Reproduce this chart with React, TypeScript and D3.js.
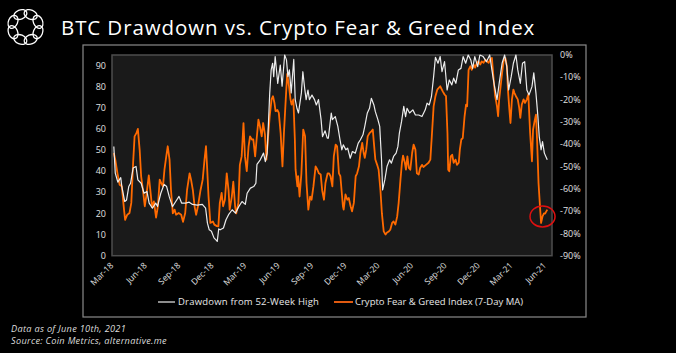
import React, { useEffect } from "react";
import * as d3 from "d3";

const title = "BTC Drawdown vs. Crypto Fear & Greed Index";
const footnotes = ["Data as of June 10th, 2021", "Source: Coin Metrics, alternative.me"];
const legendLabels = ["Drawdown from 52-Week High", "Crypto Fear & Greed Index (7-Day MA)"];

const leftTicks = [0, 10, 20, 30, 40, 50, 60, 70, 80, 90];
const rightTicks = [0, -10, -20, -30, -40, -50, -60, -70, -80, -90];
const xTickDates = [
  "2018-03-01", "2018-06-01", "2018-09-01", "2018-12-01",
  "2019-03-01", "2019-06-01", "2019-09-01", "2019-12-01",
  "2020-03-01", "2020-06-01", "2020-09-01", "2020-12-01",
  "2021-03-01", "2021-06-01",
];
const xDomain = ["2018-03-01", "2021-06-21"];

// Drawdown from 52-week high (%)
const drawdown: [string, number][] = [
  ["2018-03-06", -41], ["2018-03-10", -53], ["2018-03-17", -57], ["2018-03-25", -55], ["2018-03-28", -59],
  ["2018-04-05", -65.7], ["2018-04-10", -65], ["2018-04-16", -59], ["2018-04-21", -57.5], ["2018-04-28", -50.7],
  ["2018-05-06", -50], ["2018-05-11", -56], ["2018-05-20", -57.5], ["2018-05-28", -62], ["2018-06-05", -61.2],
  ["2018-06-11", -66.4], ["2018-06-20", -68.7], ["2018-06-29", -66.4], ["2018-07-04", -67.9], ["2018-07-13", -62],
  ["2018-07-22", -58], ["2018-07-29", -59], ["2018-08-05", -63.4], ["2018-08-14", -68], ["2018-08-23", -65.7],
  ["2018-09-01", -63.4], ["2018-09-08", -66.4], ["2018-09-19", -66.4], ["2018-09-29", -66], ["2018-10-08", -67],
  ["2018-10-21", -67.3], ["2018-11-04", -67], ["2018-11-13", -68.7], ["2018-11-18", -75.4], ["2018-11-23", -78.4],
  ["2018-11-29", -79], ["2018-12-06", -82], ["2018-12-12", -83], ["2018-12-15", -83.6], ["2018-12-19", -78],
  ["2018-12-23", -78.4], ["2019-01-01", -77.6], ["2019-01-08", -73.9], ["2019-01-15", -71.6], ["2019-01-25", -69.4],
  ["2019-02-03", -70.9], ["2019-02-12", -68], ["2019-02-21", -65.7], ["2019-03-02", -67], ["2019-03-07", -62],
  ["2019-03-16", -59.7], ["2019-03-25", -59], ["2019-03-31", -57.5], ["2019-04-03", -49], ["2019-04-12", -47],
  ["2019-04-21", -44], ["2019-04-26", -47.8], ["2019-05-01", -44], ["2019-05-08", -17.2], ["2019-05-12", -6.7],
  ["2019-05-16", -3.7], ["2019-05-19", -9.7], ["2019-05-23", -0.7], ["2019-05-30", -12.7], ["2019-06-06", -4.5],
  ["2019-06-11", -14], ["2019-06-18", 0], ["2019-06-23", -2.2], ["2019-06-27", -9.7], ["2019-07-01", -6.7],
  ["2019-07-06", -17], ["2019-07-13", -2], ["2019-07-17", -20], ["2019-07-22", -24], ["2019-07-26", -26],
  ["2019-08-03", -17], ["2019-08-07", -7.5], ["2019-08-12", -15], ["2019-08-16", -20], ["2019-08-21", -15.7],
  ["2019-08-25", -20], ["2019-09-01", -18], ["2019-09-08", -20], ["2019-09-13", -22.4], ["2019-09-19", -20],
  ["2019-09-26", -29], ["2019-09-30", -36.6], ["2019-10-07", -34], ["2019-10-13", -37.3], ["2019-10-16", -37.3],
  ["2019-10-24", -26], ["2019-10-27", -29], ["2019-11-04", -27.6], ["2019-11-11", -32], ["2019-11-17", -38],
  ["2019-11-22", -42.5], ["2019-11-26", -40.3], ["2019-12-03", -42.5], ["2019-12-08", -41.8], ["2019-12-15", -46.3],
  ["2019-12-21", -43.3], ["2019-12-29", -44], ["2020-01-06", -39.5], ["2020-01-12", -38], ["2020-01-19", -35.8],
  ["2020-01-24", -32], ["2020-01-31", -26], ["2020-02-06", -23.9], ["2020-02-11", -19.4], ["2020-02-18", -22.4],
  ["2020-02-22", -25.4], ["2020-02-29", -29], ["2020-03-05", -32], ["2020-03-10", -47], ["2020-03-13", -60.5],
  ["2020-03-19", -56], ["2020-03-25", -50], ["2020-04-01", -47], ["2020-04-06", -48.5], ["2020-04-12", -45.5],
  ["2020-04-19", -44], ["2020-04-24", -41], ["2020-04-28", -35], ["2020-05-04", -29.8], ["2020-05-10", -23],
  ["2020-05-15", -27.6], ["2020-05-19", -23.9], ["2020-05-26", -26], ["2020-06-04", -24.6], ["2020-06-11", -26.9],
  ["2020-06-20", -26.9], ["2020-06-29", -27.6], ["2020-07-08", -24.6], ["2020-07-13", -21.6], ["2020-07-19", -22.4],
  ["2020-07-25", -18.7], ["2020-07-31", -9.7], ["2020-08-05", -1], ["2020-08-12", -3.7], ["2020-08-18", -0.7],
  ["2020-08-23", -7.5], ["2020-08-30", -3], ["2020-09-06", -15.7], ["2020-09-12", -11.2], ["2020-09-19", -13.4],
  ["2020-09-24", -10.4], ["2020-09-30", -12.7], ["2020-10-07", -6.7], ["2020-10-14", -6], ["2020-10-20", -0.7],
  ["2020-10-27", -3.7], ["2020-11-03", 0], ["2020-11-10", -2.2], ["2020-11-15", -6], ["2020-11-21", -0.7],
  ["2020-11-29", -5.2], ["2020-12-05", 0], ["2020-12-14", -0.7], ["2020-12-23", -3], ["2021-01-01", 0],
  ["2021-01-07", -6.7], ["2021-01-14", -14], ["2021-01-21", -20], ["2021-01-27", -12.7], ["2021-02-04", -3.7],
  ["2021-02-11", 0], ["2021-02-17", -5.2], ["2021-02-22", -15.7], ["2021-03-01", -9.7], ["2021-03-07", -3.7],
  ["2021-03-14", 0], ["2021-03-19", -6.7], ["2021-03-26", -12.7], ["2021-04-01", -3.7], ["2021-04-07", -3],
  ["2021-04-13", -15.7], ["2021-04-19", -17.9], ["2021-04-27", -14.2], ["2021-05-02", -8], ["2021-05-08", -17.2],
  ["2021-05-13", -27], ["2021-05-17", -36.6], ["2021-05-22", -42.5], ["2021-05-26", -38.8], ["2021-05-31", -44],
  ["2021-06-08", -47],
];

// Crypto Fear & Greed Index, 7-day moving average
const fearGreed: [string, number][] = [
  ["2018-03-06", 48.6], ["2018-03-10", 45.5], ["2018-03-16", 39], ["2018-03-22", 33.6], ["2018-03-28", 32.8],
  ["2018-04-03", 21.8], ["2018-04-06", 17], ["2018-04-12", 19.4], ["2018-04-18", 20.2], ["2018-04-23", 25],
  ["2018-04-28", 44], ["2018-05-02", 56.5], ["2018-05-07", 58], ["2018-05-11", 60], ["2018-05-16", 50],
  ["2018-05-20", 37.6], ["2018-05-25", 31], ["2018-05-30", 23.4], ["2018-06-03", 28], ["2018-06-10", 38],
  ["2018-06-15", 29.7], ["2018-06-19", 23], ["2018-06-24", 25.7], ["2018-06-30", 18], ["2018-07-05", 23.4],
  ["2018-07-10", 36], ["2018-07-14", 34.4], ["2018-07-19", 32.8], ["2018-07-23", 40.7], ["2018-07-28", 47],
  ["2018-08-01", 51.8], ["2018-08-06", 45.5], ["2018-08-10", 31], ["2018-08-15", 20], ["2018-08-20", 21.8],
  ["2018-08-24", 19.4], ["2018-08-31", 20.2], ["2018-09-07", 19.4], ["2018-09-12", 16], ["2018-09-18", 20.2],
  ["2018-09-23", 31], ["2018-09-30", 39], ["2018-10-04", 36], ["2018-10-09", 31], ["2018-10-14", 23],
  ["2018-10-18", 19.4], ["2018-10-23", 23.4], ["2018-10-30", 31], ["2018-11-05", 36], ["2018-11-10", 45.5],
  ["2018-11-14", 51.8], ["2018-11-17", 42.3], ["2018-11-21", 28], ["2018-11-26", 15.5], ["2018-12-03", 16.2],
  ["2018-12-07", 14.7], ["2018-12-14", 14], ["2018-12-18", 13.9], ["2018-12-22", 25], ["2018-12-27", 29.7],
  ["2018-12-31", 23.4], ["2019-01-05", 26.5], ["2019-01-10", 39], ["2019-01-15", 31], ["2019-01-18", 21.8],
  ["2019-01-24", 28], ["2019-01-28", 35], ["2019-02-02", 23.4], ["2019-02-05", 20], ["2019-02-11", 25],
  ["2019-02-15", 43], ["2019-02-20", 47], ["2019-02-25", 62.8], ["2019-03-01", 47], ["2019-03-06", 40],
  ["2019-03-11", 51.8], ["2019-03-15", 56.5], ["2019-03-20", 55], ["2019-03-24", 55], ["2019-03-29", 47],
  ["2019-04-02", 55], ["2019-04-07", 64.4], ["2019-04-11", 61.3], ["2019-04-16", 56.5], ["2019-04-20", 62.8],
  ["2019-04-25", 57.3], ["2019-04-29", 45.5], ["2019-05-03", 55], ["2019-05-08", 66], ["2019-05-13", 74],
  ["2019-05-17", 75.5], ["2019-05-21", 72.3], ["2019-05-24", 68.4], ["2019-05-29", 69], ["2019-06-02", 67.6],
  ["2019-06-07", 58], ["2019-06-12", 42.3], ["2019-06-16", 58], ["2019-06-21", 74], ["2019-06-25", 86],
  ["2019-06-30", 80.2], ["2019-07-04", 74], ["2019-07-07", 71.5], ["2019-07-12", 74], ["2019-07-16", 55],
  ["2019-07-18", 40.7], ["2019-07-23", 32.8], ["2019-07-25", 37.6], ["2019-07-29", 28], ["2019-08-03", 39],
  ["2019-08-08", 59.7], ["2019-08-13", 56.5], ["2019-08-17", 34.4], ["2019-08-22", 21.8], ["2019-08-27", 28],
  ["2019-08-31", 26.5], ["2019-09-05", 32.8], ["2019-09-11", 42.3], ["2019-09-16", 40.7], ["2019-09-20", 39],
  ["2019-09-25", 38.4], ["2019-09-29", 31], ["2019-10-04", 26.5], ["2019-10-08", 34.4], ["2019-10-14", 39],
  ["2019-10-18", 39], ["2019-10-22", 37.6], ["2019-10-27", 32.8], ["2019-10-31", 47], ["2019-11-05", 52.6],
  ["2019-11-09", 51.8], ["2019-11-14", 39], ["2019-11-18", 37.6], ["2019-11-25", 23.4], ["2019-11-27", 21.8],
  ["2019-12-02", 29], ["2019-12-07", 26.5], ["2019-12-11", 27.3], ["2019-12-16", 23.4], ["2019-12-20", 21],
  ["2019-12-25", 25], ["2019-12-30", 37.6], ["2020-01-03", 39], ["2020-01-08", 42.3], ["2020-01-12", 48.6],
  ["2020-01-17", 53.4], ["2020-01-21", 48.6], ["2020-01-24", 46.3], ["2020-01-28", 50.2], ["2020-02-01", 56.5],
  ["2020-02-06", 58], ["2020-02-11", 58.9], ["2020-02-15", 59.7], ["2020-02-18", 53.4], ["2020-02-22", 45.5],
  ["2020-02-27", 43], ["2020-03-02", 40.7], ["2020-03-07", 31], ["2020-03-11", 20], ["2020-03-16", 11.5],
  ["2020-03-21", 10], ["2020-03-25", 11], ["2020-03-30", 11.5], ["2020-04-03", 12.3], ["2020-04-08", 15.5],
  ["2020-04-12", 16.2], ["2020-04-17", 14.7], ["2020-04-22", 18.6], ["2020-04-26", 25], ["2020-05-01", 36],
  ["2020-05-05", 44], ["2020-05-08", 47.4], ["2020-05-13", 44], ["2020-05-16", 40.7], ["2020-05-20", 47],
  ["2020-05-24", 41.5], ["2020-05-28", 40.7], ["2020-06-02", 48.6], ["2020-06-06", 52.6], ["2020-06-11", 50.2],
  ["2020-06-15", 39], ["2020-06-20", 38.4], ["2020-06-24", 41.5], ["2020-06-29", 43], ["2020-07-03", 42],
  ["2020-07-10", 43], ["2020-07-17", 44], ["2020-07-22", 45.5], ["2020-07-26", 56.5], ["2020-07-31", 70.7],
  ["2020-08-05", 75.5], ["2020-08-10", 78.6], ["2020-08-18", 80.2], ["2020-08-25", 77.8], ["2020-08-30", 76.3],
  ["2020-09-03", 75.5], ["2020-09-07", 58], ["2020-09-09", 40.7], ["2020-09-12", 40], ["2020-09-16", 47],
  ["2020-09-20", 47.8], ["2020-09-24", 44], ["2020-09-29", 45.5], ["2020-10-03", 43], ["2020-10-08", 44],
  ["2020-10-11", 50.2], ["2020-10-15", 55], ["2020-10-19", 55.7], ["2020-10-24", 66], ["2020-10-28", 71.5],
  ["2020-10-31", 70.7], ["2020-11-04", 88], ["2020-11-09", 89.7], ["2020-11-13", 88], ["2020-11-18", 90.5],
  ["2020-11-22", 89], ["2020-11-27", 91.3], ["2020-12-01", 92], ["2020-12-06", 90.5], ["2020-12-10", 92],
  ["2020-12-15", 91.3], ["2020-12-20", 92.8], ["2020-12-24", 92], ["2020-12-29", 91.3], ["2021-01-02", 92.8],
  ["2021-01-07", 93.6], ["2021-01-11", 85], ["2021-01-16", 75.5], ["2021-01-21", 70.7], ["2021-01-24", 66],
  ["2021-01-27", 74], ["2021-01-31", 80.2], ["2021-02-04", 86.5], ["2021-02-08", 92], ["2021-02-13", 93.6],
  ["2021-02-17", 89.7], ["2021-02-20", 78.6], ["2021-02-24", 69], ["2021-02-27", 62.8], ["2021-03-03", 74],
  ["2021-03-07", 78.6], ["2021-03-10", 77], ["2021-03-14", 75.5], ["2021-03-19", 74], ["2021-03-23", 70],
  ["2021-03-26", 65.2], ["2021-03-30", 71.5], ["2021-04-04", 74], ["2021-04-08", 72.3], ["2021-04-13", 74],
  ["2021-04-17", 76.3], ["2021-04-22", 58], ["2021-04-27", 44.7], ["2021-04-30", 59.7], ["2021-05-04", 63.6],
  ["2021-05-08", 66.8], ["2021-05-11", 55], ["2021-05-15", 34.4], ["2021-05-19", 23.4], ["2021-05-22", 15.5],
  ["2021-05-26", 18.6], ["2021-05-30", 20], ["2021-06-02", 19.9], ["2021-06-08", 21.8],
];

// Highlighted point (circled in red)
const highlight: [string, number] = ["2021-05-26", 18.6];

const W = 676;
const H = 353;
const plot = { left: 112, right: 552, top: 55, bottom: 255.7 };
const ORANGE = "#ff6a00";
const WHITE = "#ececec";
const FONT = "'Open Sans', 'Noto Sans', sans-serif";

const parse = d3.timeParse("%Y-%m-%d");
const fmtTick = d3.timeFormat("%b-%y");

function Logo() {
  const cx = 25.5, cy = 27, R = 13.5;
  const n = 8;
  return (
    <g fill="none" stroke="#ffffff" strokeWidth={1.3}>
      {d3.range(n).map((i) => {
        const a = (i / n) * 360 + 22.5;
        return (
          <ellipse key={i} cx={0} cy={-R} rx={6.8} ry={4.6}
            transform={`translate(${cx},${cy}) rotate(${a})`} />
        );
      })}
    </g>
  );
}

export default function App() {
  useEffect(() => {
    document.body.style.margin = "0";
    document.body.style.background = "#000";
  }, []);

  const x = d3.scaleTime()
    .domain(xDomain.map((d) => parse(d) as Date))
    .range([plot.left, plot.right]);
  const yL = d3.scaleLinear().domain([0, 95]).range([plot.bottom, plot.top]);
  const yR = d3.scaleLinear().domain([-90, 0]).range([plot.bottom, plot.top]);

  const lineDD = d3.line<[string, number]>()
    .x((d) => x(parse(d[0]) as Date))
    .y((d) => yR(d[1]));
  const lineFG = d3.line<[string, number]>()
    .x((d) => x(parse(d[0]) as Date))
    .y((d) => yL(d[1]));

  const hx = x(parse(highlight[0]) as Date);
  const hy = yL(highlight[1]);

  return (
    <svg width={W} height={H} style={{ display: "block", position: "absolute", left: 0, top: 0 }}
      fontFamily={FONT}>
      <rect x={0} y={0} width={W} height={H} fill="#000" />
      <Logo />
      <text x={61} y={35} fill="#fff" fontSize={20.5} letterSpacing={0.9}>{title}</text>

      <rect x={83} y={45} width={503} height={272} fill="none" stroke="#8a8a8a" strokeWidth={1.2} />

      <rect x={plot.left} y={plot.top} width={plot.right - plot.left} height={plot.bottom - plot.top}
        fill="#1a1a1a" stroke="#4d4d4d" strokeWidth={1.5} />

      {leftTicks.map((t) => (
        <text key={`l${t}`} x={106} y={yL(t)} dy="0.35em" textAnchor="end" fill="#e0e0e0" fontSize={9}>{t}</text>
      ))}
      {rightTicks.map((t) => (
        <text key={`r${t}`} x={560} y={yR(t)} dy="0.35em" textAnchor="start" fill="#e0e0e0" fontSize={9}>{`${t}%`}</text>
      ))}
      {xTickDates.map((d) => {
        const px = x(parse(d) as Date);
        return (
          <text key={d} transform={`translate(${px + 2},${266}) rotate(-45)`} textAnchor="end"
            fill="#e0e0e0" fontSize={8.5}>{fmtTick(parse(d) as Date)}</text>
        );
      })}

      <path d={lineFG(fearGreed) || ""} fill="none" stroke={ORANGE} strokeWidth={1.8} strokeLinejoin="round" />
      <path d={lineDD(drawdown) || ""} fill="none" stroke={WHITE} strokeWidth={1.2} strokeLinejoin="round" />

      <ellipse cx={hx} cy={hy} rx={12.5} ry={10.5} fill="none" stroke="#e01010" strokeWidth={1.5} />

      <line x1={158} x2={175} y1={302} y2={302} stroke={WHITE} strokeWidth={1.2} />
      <text x={178} y={302} dy="0.35em" fill="#e8e8e8" fontSize={9.5} letterSpacing={0.2}>{legendLabels[0]}</text>
      <line x1={334} x2={353} y1={302} y2={302} stroke="#e05a10" strokeWidth={2} />
      <text x={355} y={302} dy="0.35em" fill="#e8e8e8" fontSize={9.5}>{legendLabels[1]}</text>

      {footnotes.map((f, i) => (
        <text key={i} x={11} y={332 + i * 11.5} fill="#dcdcdc" fontSize={9.2} fontStyle="italic"
          letterSpacing={0.3}>{f}</text>
      ))}
    </svg>
  );
}
